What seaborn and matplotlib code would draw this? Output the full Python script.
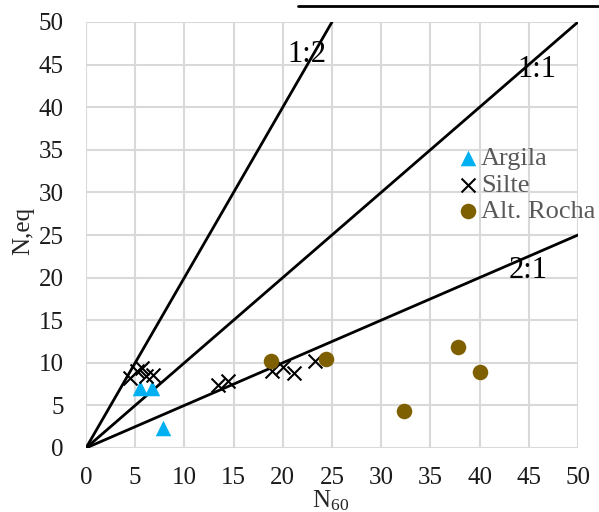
import matplotlib
matplotlib.use("Agg")
import matplotlib.pyplot as plt
import seaborn as sns
import pandas as pd
from matplotlib.lines import Line2D

# Data
argila_x = [5.5, 6.7, 7.8]
argila_y = [7.1, 7.1, 2.4]
silte_x = [4.5, 5.2, 5.7, 6.1, 6.8, 13.4, 14.4, 18.9, 20.0, 21.1, 23.3]
silte_y = [8.2, 9.0, 9.4, 8.5, 8.6, 7.4, 7.9, 9.0, 9.5, 8.8, 10.2]
rocha_x = [18.8, 24.4, 32.3, 37.8, 40.0]
rocha_y = [10.2, 10.5, 4.4, 11.8, 8.9]

ref_lines = {"1:2": ([0, 25], [0, 50]), "1:1": ([0, 50], [0, 50]), "2:1": ([0, 50], [0, 25])}
ref_labels = {"1:2": (22.4, 46.2), "1:1": (45.8, 44.4), "2:1": (44.9, 20.8)}
ticks = list(range(0, 51, 5))

df = pd.concat([
    pd.DataFrame({"x": argila_x, "y": argila_y, "g": "Argila"}),
    pd.DataFrame({"x": silte_x, "y": silte_y, "g": "Silte"}),
    pd.DataFrame({"x": rocha_x, "y": rocha_y, "g": "Alt. Rocha"}),
])

sns.set_style("white")
plt.rcParams["font.family"] = ["Liberation Serif", "DejaVu Serif"]
plt.rcParams["mathtext.fontset"] = "custom"
plt.rcParams["mathtext.rm"] = "Liberation Serif"
plt.rcParams["mathtext.it"] = "Liberation Serif:italic"

fig = plt.figure(figsize=(5.99, 5.12), dpi=100)
ax = fig.add_axes([86 / 599, 64 / 512, 492 / 599, 426 / 512])

for k, (lx, ly) in ref_lines.items():
    ax.plot(lx, ly, color="black", lw=2, zorder=2)
    tx, ty = ref_labels[k]
    ax.text(tx, ty, k, fontsize=22, ha="center", va="center", color="black", zorder=3)

palette = {"Argila": "#00B0F0", "Silte": "black", "Alt. Rocha": "#7F6000"}
markers = {"Argila": "^", "Silte": "x", "Alt. Rocha": "o"}
for g in ["Argila", "Silte", "Alt. Rocha"]:
    sub = df[df.g == g]
    if g == "Silte":
        sns.scatterplot(data=sub, x="x", y="y", ax=ax, marker="x", color="black",
                        s=100, linewidth=1.5, label=g, zorder=4)
    else:
        sns.scatterplot(data=sub, x="x", y="y", ax=ax, marker=markers[g], color=palette[g],
                        s=125, linewidth=0, label=g, zorder=4)

ax.set_xlim(0, 50)
ax.set_ylim(0, 50)
ax.set_xticks(ticks)
ax.set_yticks(ticks)
ax.grid(True, color="#d9d9d9", lw=1.5)
ax.set_axisbelow(True)
for s in ax.spines.values():
    s.set_visible(False)
ax.tick_params(length=0, labelsize=18, colors="#1a1a1a")
ax.tick_params(axis="x", pad=14)
ax.tick_params(axis="y", pad=16)
ax.set_xlabel(r"N$_{\mathrm{60}}$", fontsize=18)
ax.xaxis.label.set_va("center")
ax.xaxis.set_label_coords(0.498, -0.123)
ax.set_ylabel("N,eq", fontsize=18)
ax.yaxis.label.set_va("center")
ax.yaxis.set_label_coords(-0.128, 0.509)

leg = ax.legend(loc="upper left", bbox_to_anchor=(0.752, 0.708), frameon=False,
                fontsize=19, handletextpad=0.05, labelspacing=0.12, borderpad=0,
                borderaxespad=0, handlelength=0.9)
for t in leg.get_texts():
    t.set_color("#595959")

fig.add_artist(Line2D([298 / 599, 1.0], [1 - 6 / 512, 1 - 6 / 512], color="black", lw=2))

fig.savefig("out.png", dpi=100)
